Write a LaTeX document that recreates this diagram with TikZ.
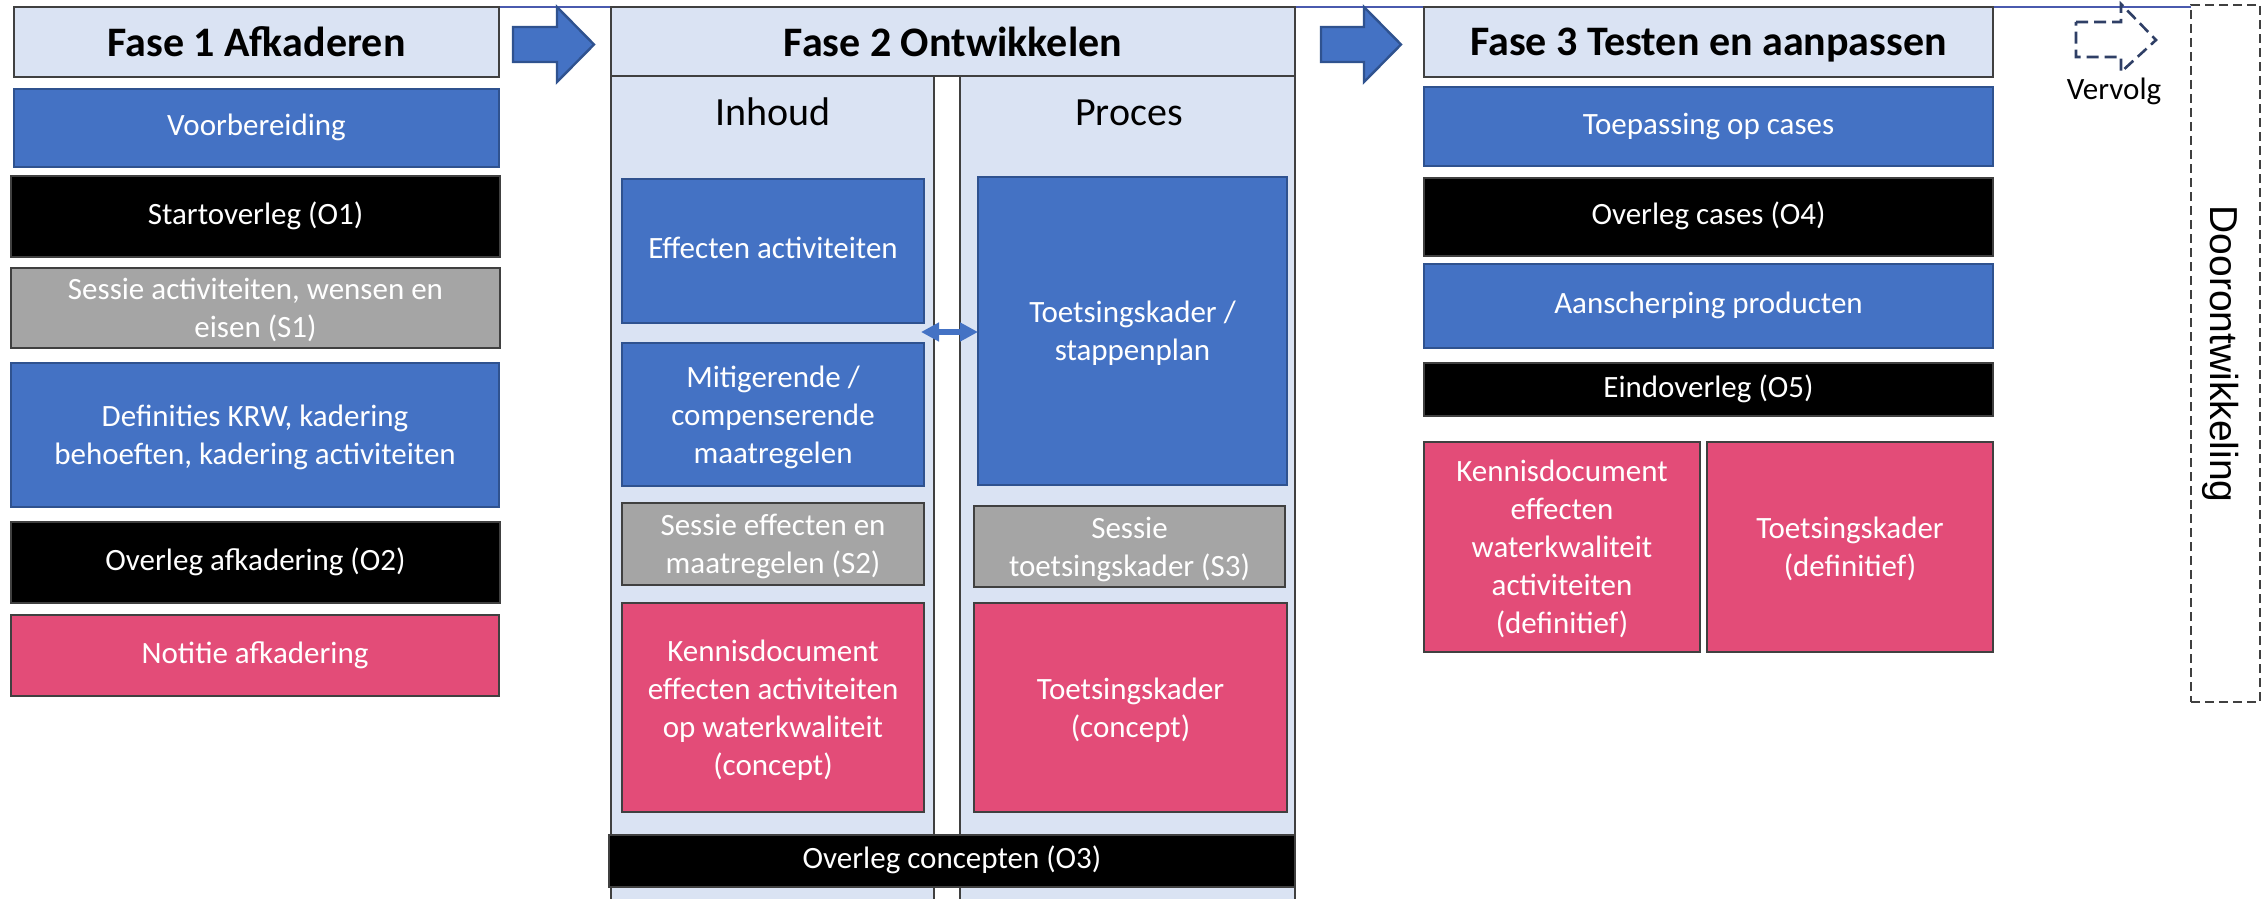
\documentclass[tikz,border=0pt]{standalone}
\usepackage{fontspec}
\setmainfont{Carlito}
\newfontfamily\sideFont{Liberation Sans}
\usetikzlibrary{arrows.meta,backgrounds}
\definecolor{hdrfill}{HTML}{DAE3F3}
\definecolor{edgegrey}{HTML}{404040}
\definecolor{ofblue}{HTML}{4472C4}
\definecolor{ofblueline}{HTML}{2F528F}
\definecolor{ofgrey}{HTML}{A5A5A5}
\definecolor{ofpink}{HTML}{E34C78}
\definecolor{navydash}{HTML}{2F3F66}
\definecolor{guideblue}{HTML}{4A5AAE}

% \boxat{style}{x1}{y1}{x2}{y2}{name}{text}: a rectangle node spanning the
% given corners (pixel units), text centred inside
\newcommand\boxat[7]{%
  \pgfmathsetmacro\bxw{(#4-#2)*0.5}%
  \pgfmathsetmacro\bxh{(#5-#3)*0.5}%
  \node[#1, minimum width=\bxw pt, minimum height=\bxh pt]
    (#6) at ({(#2+#4)/2},{(#3+#5)/2}) {#7};}
% \mboxat: same, for text of several lines; the text sits in its own node,
% lowered by half a line depth so the block is optically centred
\newcommand\mboxat[7]{%
  \boxat{#1}{#2}{#3}{#4}{#5}{#6}{}%
  \node[#1, draw=none, fill=none, yshift=-2.85pt] (#6-text) at (#6.center) {#7};}

\begin{document}
\begin{tikzpicture}[x=0.5pt,y=-0.5pt,
  txt/.style={font=\fontsize{15.5}{19}\selectfont,
    execute at begin node=\strut, execute at end node=\strut},
  box/.style={txt, inner sep=0pt, outer sep=0pt, align=center,
    text=white, line width=1.2pt},
  bluebox/.style={box, fill=ofblue, draw=ofblueline},
  blackbox/.style={box, fill=black, draw=edgegrey},
  greybox/.style={box, fill=ofgrey, draw=edgegrey},
  pinkbox/.style={box, fill=ofpink, draw=edgegrey},
  phase/.style={inner sep=0pt, outer sep=0pt, fill=hdrfill, draw=edgegrey,
    line width=1.4pt, text depth=0pt,
    font=\bfseries\fontsize{21}{25}\selectfont},
  column/.style={inner sep=0pt, outer sep=0pt, fill=hdrfill, draw=edgegrey,
    line width=1.2pt},
  coltitle/.style={font=\fontsize{20}{24}\selectfont},
  blockarrow/.style={fill=ofblue, draw=ofblueline, line width=1.2pt,
    line join=miter},
  nextarrow/.style={draw=navydash, line width=1.3pt,
    dash pattern=on 6pt off 3pt},
  dashframe/.style={draw=edgegrey, line width=1.3pt,
    dash pattern=on 4.5pt off 2.5pt, inner sep=0pt, outer sep=0pt},
  linkarrow/.style={draw=ofblue, line width=3pt,
    {Triangle[length=9pt,width=9pt]}-{Triangle[length=9pt,width=9pt]}},
]
\useasboundingbox (0,0) rectangle (2265,899);

% ---------- Fase 1 ----------
\boxat{phase}{14}{7}{499}{77}{fase1}{Fase 1 Afkaderen}
\boxat{bluebox}{14}{89}{499}{167}{voorb}{Voorbereiding}
\boxat{blackbox}{11}{176}{500}{257}{o1}{Startoverleg (O1)}
\mboxat{greybox}{11}{268}{500}{348}{s1}{Sessie activiteiten, wensen en\\eisen (S1)}
\mboxat{bluebox}{11}{363}{499}{507}{defs}{Definities KRW, kadering\\behoeften, kadering activiteiten}
\boxat{blackbox}{11}{522}{500}{603}{o2}{Overleg afkadering (O2)}
\boxat{pinkbox}{11}{615}{499}{696}{notitie}{Notitie afkadering}

% arrow from phase 1 to phase 2
\draw[blockarrow] (513,27) -- (557,27) -- (557,7) -- (594,44.5) -- (557,82)
  -- (557,62) -- (513,62) -- cycle;

% ---------- Fase 2 ----------
\boxat{column}{611}{76}{934}{910}{inhoudcol}{}
\boxat{column}{960}{76}{1295}{910}{procescol}{}
\boxat{phase}{611}{7}{1295}{76}{fase2}{Fase 2 Ontwikkelen}
\node[coltitle] (inhoud) at (773,112) {Inhoud};
\node[coltitle] (proces) at (1129,113) {Proces};

\boxat{bluebox}{622}{179}{924}{323}{effect}{Effecten activiteiten}
\mboxat{bluebox}{622}{343}{924}{486}{mitig}{Mitigerende /\\compenserende\\maatregelen}
\mboxat{greybox}{622}{503}{924}{585}{s2}{Sessie effecten en\\maatregelen (S2)}
\mboxat{pinkbox}{622}{603}{924}{812}{kdconcept}{Kennisdocument\\effecten activiteiten\\op waterkwaliteit\\(concept)}

\mboxat{bluebox}{978}{177}{1287}{485}{stappen}{Toetsingskader /\\stappenplan}
\mboxat{greybox}{974}{506}{1285}{587}{s3}{Sessie\\toetsingskader (S3)}
\mboxat{pinkbox}{974}{603}{1287}{812}{tkconcept}{Toetsingskader\\(concept)}

\boxat{blackbox}{609}{835}{1295}{887}{o3}{Overleg concepten (O3)}

% link between content and process
\coordinate (linkstart) at (921,332);
\draw[linkarrow] (linkstart) -- (stappen.west |- linkstart);

% arrow from phase 2 to phase 3
\draw[blockarrow] (1321,27) -- (1364,27) -- (1364,7) -- (1401,44.5) -- (1364,82)
  -- (1364,62) -- (1321,62) -- cycle;

% ---------- Fase 3 ----------
\boxat{phase}{1424}{7}{1993}{77}{fase3}{Fase 3 Testen en aanpassen}
\boxat{bluebox}{1424}{87}{1993}{166}{cases}{Toepassing op cases}
\boxat{blackbox}{1424}{178}{1993}{256}{o4}{Overleg cases (O4)}
\boxat{bluebox}{1424}{264}{1993}{348}{aansch}{Aanscherping producten}
\boxat{blackbox}{1424}{363}{1993}{416}{o5}{Eindoverleg (O5)}
\mboxat{pinkbox}{1424}{442}{1700}{652}{kddef}{Kennisdocument\\effecten\\waterkwaliteit\\activiteiten\\(definitief)}
\mboxat{pinkbox}{1707}{442}{1993}{652}{tkdef}{Toetsingskader\\(definitief)}

% ---------- Vervolg ----------
\draw[nextarrow] (2076,22) -- (2121,22) -- (2121,4) -- (2156,40) -- (2121,72)
  -- (2121,57) -- (2076,57) -- cycle;
\node[txt] (vervolg) at (2114,92) {Vervolg};

\boxat{dashframe}{2191}{5}{2260}{702}{door}{}
\node[rotate=-90, font=\sideFont\fontsize{19.5}{23}\selectfont] (doorlabel)
  at (2221,354) {Doorontwikkeling};

% ---------- background: page and guide line along the top ----------
\begin{scope}[on background layer]
  \fill[white] (0,0) rectangle (2265,899);
  \draw[guideblue, line width=0.8pt] (fase1.north east) -- (fase1.north east -| door.west);
\end{scope}
\end{tikzpicture}
\end{document}
